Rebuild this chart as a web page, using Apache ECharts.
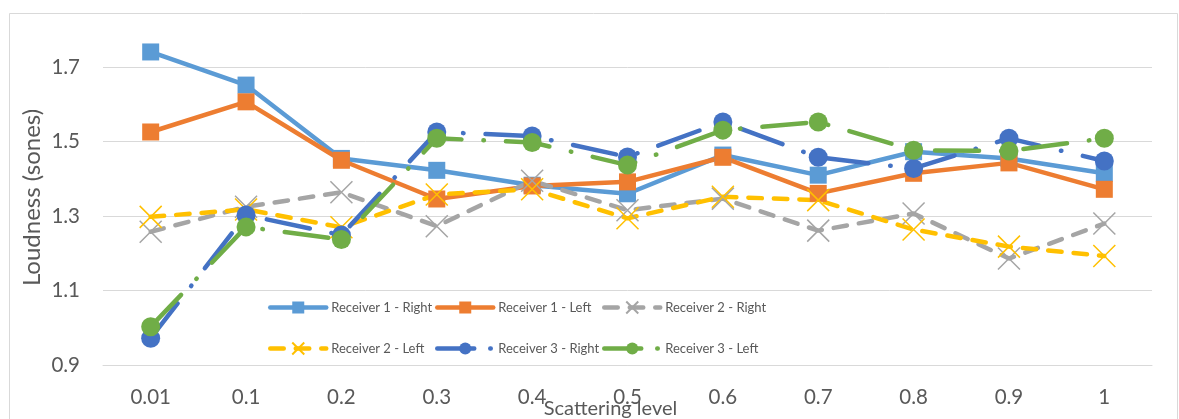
<!DOCTYPE html>
<html>
<head>
<meta charset="utf-8">
<script src="https://cdn.jsdelivr.net/npm/echarts@6/dist/echarts.min.js"></script>
<style>
html,body{margin:0;padding:0;background:#fff;}
#chart{width:1179px;height:419px;}
</style>
</head>
<body>
<div id="chart"></div>
<script>
const categories = ['0.01','0.1','0.2','0.3','0.4','0.5','0.6','0.7','0.8','0.9','1'];
const seriesNames = ['Receiver 1 - Right','Receiver 1 - Left','Receiver 2 - Right','Receiver 2 - Left','Receiver 3 - Right','Receiver 3 - Left'];
const receiver1Right = [1.741, 1.652, 1.455, 1.423, 1.383, 1.360, 1.464, 1.410, 1.473, 1.455, 1.415];
const receiver1Left  = [1.526, 1.607, 1.450, 1.346, 1.381, 1.392, 1.458, 1.361, 1.415, 1.443, 1.372];
const receiver2Right = [1.258, 1.325, 1.364, 1.273, 1.395, 1.316, 1.347, 1.261, 1.307, 1.186, 1.280];
const receiver2Left  = [1.298, 1.318, 1.270, 1.358, 1.372, 1.294, 1.352, 1.343, 1.264, 1.218, 1.193];
const receiver3Right = [0.972, 1.303, 1.249, 1.526, 1.515, 1.459, 1.553, 1.458, 1.428, 1.509, 1.448];
const receiver3Left  = [1.003, 1.271, 1.237, 1.509, 1.498, 1.437, 1.531, 1.553, 1.477, 1.475, 1.509];
const yTicks = {min: 0.9, max: 1.8, interval: 0.2};
const axisTitles = {x: 'Scattering level', y: 'Loudness (sones)'};

const FONT = 'Lato';
const TXT = '#595959';
const GRID = '#d9d9d9';
const XSYM = 'path://M0,0L10,10M10,0L0,10';
const LW = 4.5;
const DASH2 = [13.5, 12];
const DASH3 = [44, 22, 0.5, 22];

function mk(name, data, color, opts) {
  return Object.assign({
    name: name, type: 'line', data: data,
    showSymbol: true, showAllSymbol: true,
    color: color,
    lineStyle: {color: color, width: LW, cap: 'round', join: 'round'},
    itemStyle: {color: color, borderWidth: 0},
    emphasis: {disabled: true},
    animation: false
  }, opts);
}

const series = [
  mk(seriesNames[0], receiver1Right, '#5B9BD5', {symbol: 'rect', symbolSize: 17}),
  mk(seriesNames[1], receiver1Left, '#ED7D31', {symbol: 'rect', symbolSize: 17}),
  mk(seriesNames[2], receiver2Right, '#A5A5A5', {symbol: XSYM, symbolSize: 22,
     lineStyle: {color: '#A5A5A5', width: LW, cap: 'round', type: DASH2},
     itemStyle: {color: '#A5A5A5', borderColor: '#A5A5A5', borderWidth: 1.5}}),
  mk(seriesNames[3], receiver2Left, '#FFC000', {symbol: XSYM, symbolSize: 22,
     lineStyle: {color: '#FFC000', width: LW, cap: 'round', type: DASH2},
     itemStyle: {color: '#FFC000', borderColor: '#FFC000', borderWidth: 1.5}}),
  mk(seriesNames[4], receiver3Right, '#4472C4', {symbol: 'circle', symbolSize: 19,
     lineStyle: {color: '#4472C4', width: LW, cap: 'round', type: DASH3}}),
  mk(seriesNames[5], receiver3Left, '#70AD47', {symbol: 'circle', symbolSize: 19,
     lineStyle: {color: '#70AD47', width: LW, cap: 'round', type: DASH3}})
];

const legendCols = [268, 435, 602];
const legendRows = [300, 341];
const legends = seriesNames.map(function (n, i) {
  const item = {name: n};
  if (i >= 4) item.lineStyle = {width: LW, type: [37, 16, 0.5, 20]};
  return {
    orient: 'horizontal', left: legendCols[i % 3], top: legendRows[Math.floor(i / 3)],
    itemWidth: 56, itemHeight: 15, itemGap: 10, padding: 0, selectedMode: false,
    lineStyle: {width: LW},
    textStyle: {fontFamily: FONT, fontSize: 13, color: TXT, lineHeight: 15},
    data: [item]
  };
});

const chart = echarts.init(document.getElementById('chart'), null, {renderer: 'canvas'});
chart.setOption({
  backgroundColor: '#ffffff',
  animation: false,
  textStyle: {fontFamily: FONT},
  grid: {left: 103, right: 27, top: 30, bottom: 54, containLabel: false, outerBoundsMode: 'none'},
  graphic: [{
    type: 'rect', silent: true, z: -10,
    shape: {x: 9.5, y: 13.5, width: 1168, height: 500},
    style: {fill: null, stroke: GRID, lineWidth: 1}
  }],
  xAxis: {
    type: 'category', data: categories, boundaryGap: true,
    name: axisTitles.x, nameLocation: 'middle', nameGap: 34, nameMoveOverlap: false,
    nameTextStyle: {fontFamily: FONT, fontSize: 20, color: TXT, padding: [0, 34, 0, 0]},
    axisLine: {show: true, lineStyle: {color: GRID, width: 1}},
    axisTick: {show: false},
    axisLabel: {fontFamily: FONT, fontSize: 20.5, color: TXT, margin: 22},
    splitLine: {show: false}
  },
  yAxis: {
    type: 'value', min: yTicks.min, max: yTicks.max, interval: yTicks.interval,
    name: axisTitles.y, nameLocation: 'middle', nameGap: 59, nameRotate: 90, nameMoveOverlap: false,
    nameTextStyle: {fontFamily: FONT, fontSize: 24, color: TXT},
    axisLine: {show: false}, axisTick: {show: false},
    axisLabel: {fontFamily: FONT, fontSize: 20.5, color: TXT, margin: 23, showMaxLabel: false,
      formatter: function (v) { return Math.abs(v - 1.8) < 1e-6 ? '' : v.toFixed(1); }},
    splitLine: {show: true, showMaxLine: false, lineStyle: {color: GRID, width: 1}}
  },
  legend: legends,
  series: series
});
</script>
</body>
</html>
